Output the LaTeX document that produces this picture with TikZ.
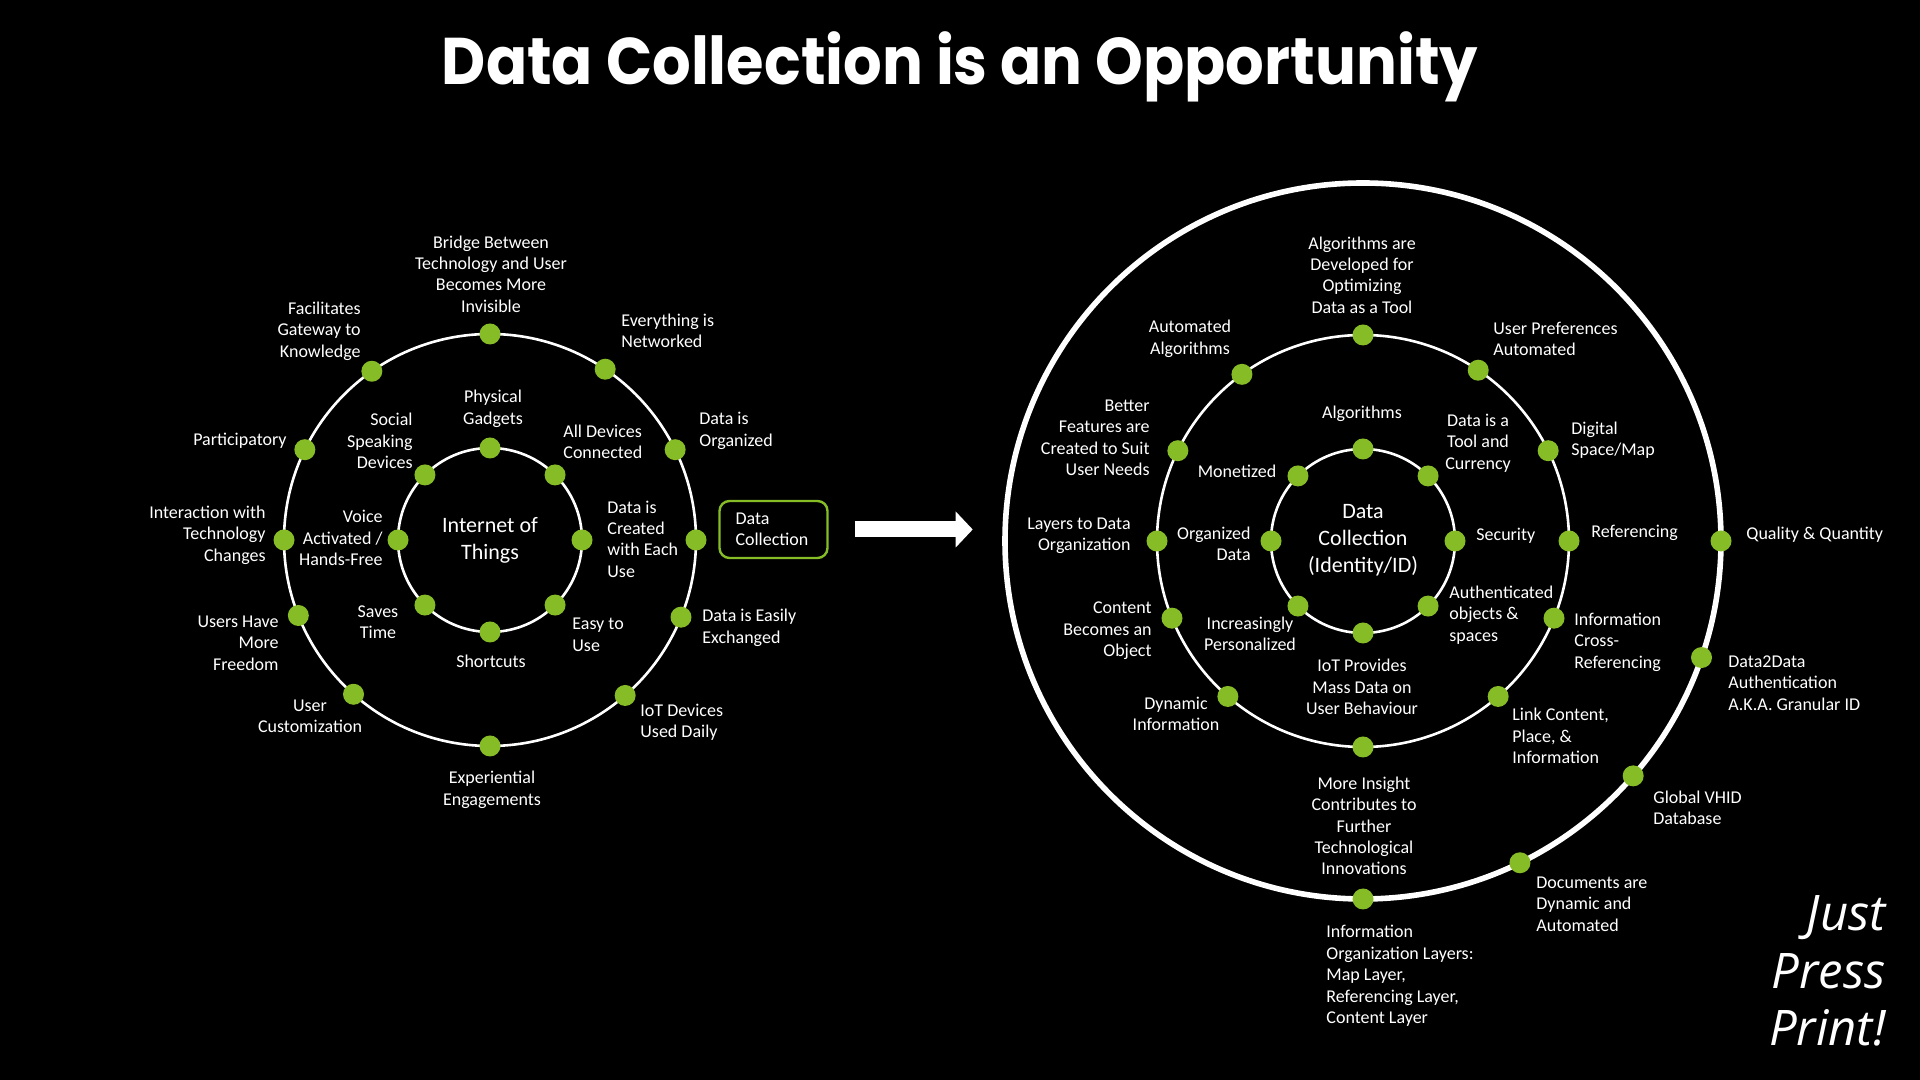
\documentclass[tikz,border=0pt]{standalone}
\usepackage{fontspec}
\setmainfont{Carlito}
\newfontfamily\titlefont{Poppins}
\newfontfamily\slogfont{Open Sans}
\usepackage{tikz}
\usetikzlibrary{arrows.meta,positioning,calc}

\definecolor{leaf}{RGB}{134,188,37}

\begin{document}
\begin{tikzpicture}[x=0.5pt, y=0.5pt,
  dot/.style={circle, fill=leaf, minimum size=10.5pt, inner sep=0pt},
  ring/.style={draw=white, line width=1.3pt},
  lbl/.style={text=white, font=\fontsize{9}{10.7}\selectfont, inner sep=0pt},
  lblL/.style={lbl, anchor=west, align=left},
  lblR/.style={lbl, anchor=east, align=right},
  lblC/.style={lbl, align=center},
  hub/.style={text=white, font=\fontsize{11}{13.5}\selectfont, align=center, inner sep=0pt}]

\fill[black] (0,0) rectangle (1920,1080);
\useasboundingbox (0,0) rectangle (1920,1080);

\node[text=white, inner sep=0pt, font=\titlefont\bfseries\fontsize{33}{38}\selectfont] (title) at (960,1013)
  {\scalebox{0.92}[1]{Data Collection is an Opportunity}};

% left: internet of things
\coordinate (iot) at (490,540);
\draw[ring] (iot) circle[radius=46pt];
\draw[ring] (iot) circle[radius=103pt];

\node[dot] (li1) at ($(iot)+(90:46pt)$) {};
\node[dot] (li2) at ($(iot)+(45:46pt)$) {};
\node[dot] (li3) at ($(iot)+(0:46pt)$) {};
\node[dot] (li4) at ($(iot)+(-45:46pt)$) {};
\node[dot] (li5) at ($(iot)+(-90:46pt)$) {};
\node[dot] (li6) at ($(iot)+(-135:46pt)$) {};
\node[dot] (li7) at ($(iot)+(180:46pt)$) {};
\node[dot] (li8) at ($(iot)+(135:46pt)$) {};

\node[dot] (lo1) at ($(iot)+(90:103pt)$) {};
\node[dot] (lo2) at ($(iot)+(56:103pt)$) {};
\node[dot] (lo3) at ($(iot)+(26:103pt)$) {};
\node[dot] (lo4) at ($(iot)+(0:103pt)$) {};
\node[dot] (lo5) at ($(iot)+(-22:103pt)$) {};
\node[dot] (lo6) at ($(iot)+(-49:103pt)$) {};
\node[dot] (lo7) at ($(iot)+(-90:103pt)$) {};
\node[dot] (lo8) at ($(iot)+(-131.5:103pt)$) {};
\node[dot] (lo9) at ($(iot)+(-158.5:103pt)$) {};
\node[dot] (lo10) at ($(iot)+(180:103pt)$) {};
\node[dot] (lo11) at ($(iot)+(154:103pt)$) {};
\node[dot] (lo12) at ($(iot)+(125:103pt)$) {};

\node[hub] (iothub) at (iot) {Internet of\\Things};

\node[lblC] (gadgets) at (493,671) {Physical\\Gadgets};
\node[lblL] (connected) at (563,638) {All Devices\\Connected};
\node[lblL] (created) at (607,541) {Data is\\Created\\with Each\\Use};
\node[lblL] (easy) at (572,445) {Easy to\\Use};
\node[lblC] (shortcuts) at (491,419) {Shortcuts};
\node[lblC] (saves) at (378,458) {Saves\\Time};
\node[lblR] (voice) at (383,542) {Voice\\Activated /\\Hands-Free};
\node[lblR] (social) at (413,639) {Social\\Speaking\\Devices};

\node[lblC] (bridge) at (491,806) {Bridge Between\\Technology and User\\Becomes More\\Invisible};
\node[lblL] (networked) at (621,749) {Everything is\\Networked};
\node[lblL] (organized) at (699,649) {Data is\\Organized};
\node[lblL] (exchanged) at (702,452) {Data is Easily\\Exchanged};
\node[lblL] (daily) at (640,358) {IoT Devices\\Used Daily};
\node[lblC] (engage) at (492,290) {Experiential\\Engagements};
\node[lblC] (custom) at (310,364) {User\\Customization};
\node[lblR] (freedom) at (279,437) {Users Have\\More\\Freedom};
\node[lblR] (interact) at (266,545) {Interaction with\\Technology\\Changes};
\node[lblR] (particip) at (287,639) {Participatory};
\node[lblR] (gateway) at (361,749) {Facilitates\\Gateway to\\Knowledge};

\node[draw=leaf, line width=1.2pt, rounded corners=5pt, text=white, font=\fontsize{9}{10.7}\selectfont,
  align=left, text width=38pt, inner xsep=8pt, minimum height=28.5pt] (dcbox) at (773.5,550.5) {Data\\Collection};

\coordinate[right=13pt of dcbox] (arrS);
\coordinate[right=59pt of arrS] (arrE);
\draw[white, line width=8pt, -{Triangle[length=8.5pt, width=17.5pt]}] (arrS) -- (arrE);

% right: data collection
\coordinate (dc) at (1363,539);
\draw[ring] (dc) circle[radius=46pt];
\draw[ring] (dc) circle[radius=103pt];
\draw[draw=white, line width=2.8pt] (dc) circle[radius=179pt];

\node[dot] (ri1) at ($(dc)+(90:46pt)$) {};
\node[dot] (ri2) at ($(dc)+(45:46pt)$) {};
\node[dot] (ri3) at ($(dc)+(0:46pt)$) {};
\node[dot] (ri4) at ($(dc)+(-45:46pt)$) {};
\node[dot] (ri5) at ($(dc)+(-90:46pt)$) {};
\node[dot] (ri6) at ($(dc)+(-135:46pt)$) {};
\node[dot] (ri7) at ($(dc)+(180:46pt)$) {};
\node[dot] (ri8) at ($(dc)+(135:46pt)$) {};

\node[dot] (rm1) at ($(dc)+(90:103pt)$) {};
\node[dot] (rm2) at ($(dc)+(56:103pt)$) {};
\node[dot] (rm3) at ($(dc)+(26:103pt)$) {};
\node[dot] (rm4) at ($(dc)+(0:103pt)$) {};
\node[dot] (rm5) at ($(dc)+(-22:103pt)$) {};
\node[dot] (rm6) at ($(dc)+(-49:103pt)$) {};
\node[dot] (rm7) at ($(dc)+(-90:103pt)$) {};
\node[dot] (rm8) at ($(dc)+(-131:103pt)$) {};
\node[dot] (rm9) at ($(dc)+(-158:103pt)$) {};
\node[dot] (rm10) at ($(dc)+(180:103pt)$) {};
\node[dot] (rm11) at ($(dc)+(154:103pt)$) {};
\node[dot] (rm12) at ($(dc)+(126:103pt)$) {};

\node[dot] (ro1) at ($(dc)+(0:179pt)$) {};
\node[dot] (ro2) at ($(dc)+(-19:179pt)$) {};
\node[dot] (ro3) at ($(dc)+(-41:179pt)$) {};
\node[dot] (ro4) at ($(dc)+(-64:179pt)$) {};
\node[dot] (ro5) at ($(dc)+(-90:179pt)$) {};

\node[hub] (dchub) at (1363,540) {Data\\Collection\\(Identity/ID)};

\node[lblC] (algo) at (1362,666) {Algorithms};
\node[lblC] (currency) at (1478,637) {Data is a\\Tool and\\Currency};
\node[lblL] (security) at (1476,544) {Security};
\node[lblL] (authobj) at (1449,465) {Authenticated\\objects \&\\spaces};
\node[lblC] (massdata) at (1362,393) {IoT Provides\\Mass Data on\\User Behaviour};
\node[lblC] (personal) at (1250,446) {Increasingly\\Personalized};
\node[lblR] (orgdata) at (1251,536) {Organized\\Data};
\node[lblC] (monetized) at (1237,609) {Monetized};

\node[lblC] (optimize) at (1362,805) {Algorithms are\\Developed for\\Optimizing\\Data as a Tool};
\node[lblL] (prefs) at (1493,741) {User Preferences\\Automated};
\node[lblL] (spacemap) at (1571,640) {Digital\\Space/Map};
\node[lblL] (referencing) at (1591,547) {Referencing};
\node[lblL] (crossref) at (1574,438) {Information\\Cross-\\Referencing};
\node[lblL] (linkcont) at (1512,344) {Link Content,\\Place, \&\\Information};
\node[lblC] (insight) at (1364,254) {More Insight\\Contributes to\\Further\\Technological\\Innovations};
\node[lblC] (dyninfo) at (1176,366) {Dynamic\\Information};
\node[lblR] (object) at (1152,449) {Content\\Becomes an\\Object};
\node[lblR] (layers) at (1131,544) {Layers to Data\\Organization};
\node[lblR] (features) at (1150,642) {Better\\Features are\\Created to Suit\\User Needs};
\node[lblC] (autoalgo) at (1190,741) {Automated\\Algorithms};

\node[lblL] (quality) at (1746,545) {Quality \& Quantity};
\node[lblL] (granular) at (1728,397) {Data2Data\\Authentication\\A.K.A. Granular ID};
\node[lblL] (vhid) at (1653,272) {Global VHID\\Database};
\node[lblL] (documents) at (1536,176) {Documents are\\Dynamic and\\Automated};
\node[lblL] (orglayers) at (1326,104) {Information\\Organization Layers:\\Map Layer,\\Referencing Layer,\\Content Layer};

\node[text=white, inner sep=0pt, anchor=east, align=right, font=\slogfont\itshape\fontsize{24.5}{28.8}\selectfont] (slogan)
  at (1886,109) {Just\\Press\\Print!};
\end{tikzpicture}
\end{document}
